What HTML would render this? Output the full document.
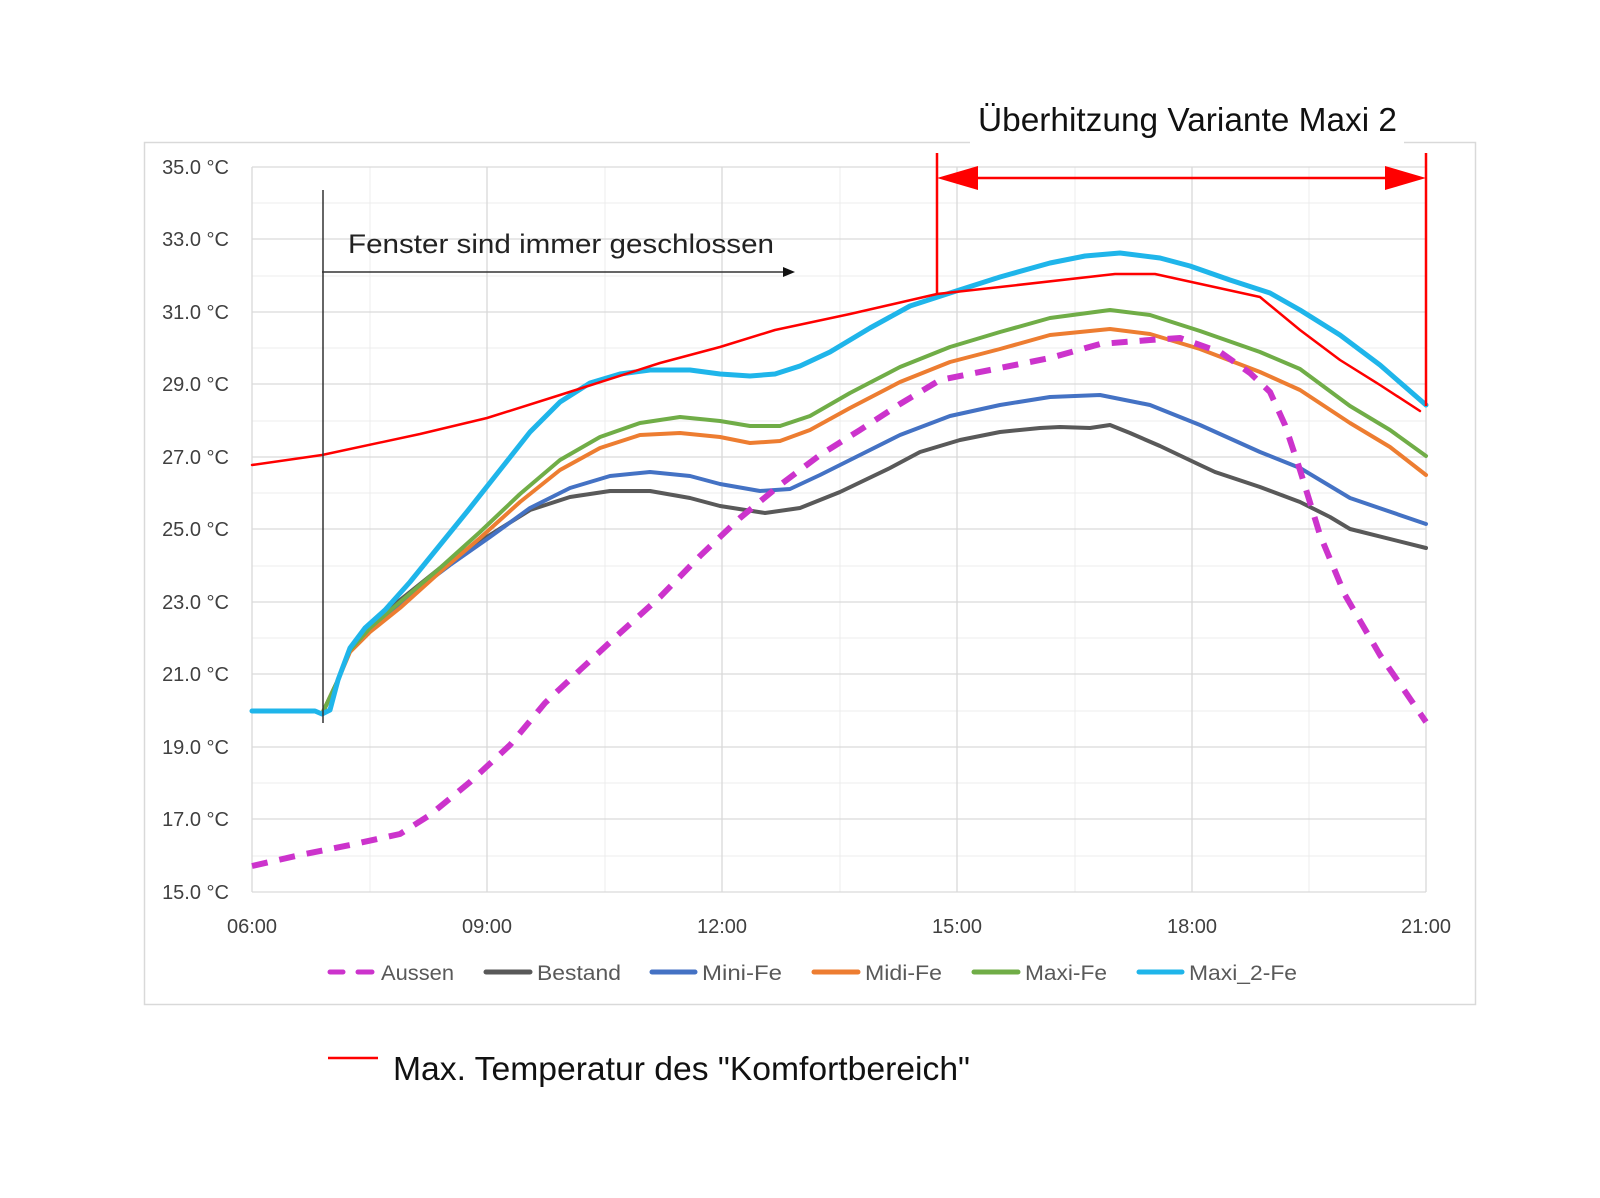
<!DOCTYPE html>
<html><head><meta charset="utf-8"><style>html,body{margin:0;padding:0;background:#fff}svg{display:block}</style></head>
<body>
<svg width="1600" height="1198" viewBox="0 0 1600 1198" xmlns="http://www.w3.org/2000/svg" font-family="Liberation Sans Narrow, Liberation Sans, sans-serif">
<rect x="144.5" y="142.5" width="1331" height="862" fill="none" stroke="#d9d9d9" stroke-width="1.5"/>
<rect x="970" y="130" width="434" height="24" fill="#fff"/>
<g stroke="#ececec" stroke-width="1">
<line x1="252" y1="203" x2="1426" y2="203"/><line x1="252" y1="276" x2="1426" y2="276"/><line x1="252" y1="348" x2="1426" y2="348"/><line x1="252" y1="421" x2="1426" y2="421"/><line x1="252" y1="493" x2="1426" y2="493"/><line x1="252" y1="566" x2="1426" y2="566"/><line x1="252" y1="638" x2="1426" y2="638"/><line x1="252" y1="711" x2="1426" y2="711"/><line x1="252" y1="783" x2="1426" y2="783"/><line x1="252" y1="856" x2="1426" y2="856"/>
<line x1="370" y1="167" x2="370" y2="892"/><line x1="605" y1="167" x2="605" y2="892"/><line x1="840" y1="167" x2="840" y2="892"/><line x1="1075" y1="167" x2="1075" y2="892"/><line x1="1309" y1="167" x2="1309" y2="892"/>
</g>
<g stroke="#d9d9d9" stroke-width="1.3">
<line x1="252" y1="167" x2="1426" y2="167"/><line x1="252" y1="239" x2="1426" y2="239"/><line x1="252" y1="312" x2="1426" y2="312"/><line x1="252" y1="384" x2="1426" y2="384"/><line x1="252" y1="457" x2="1426" y2="457"/><line x1="252" y1="529" x2="1426" y2="529"/><line x1="252" y1="602" x2="1426" y2="602"/><line x1="252" y1="674" x2="1426" y2="674"/><line x1="252" y1="747" x2="1426" y2="747"/><line x1="252" y1="819" x2="1426" y2="819"/><line x1="252" y1="892" x2="1426" y2="892"/>
<line x1="252" y1="167" x2="252" y2="892"/><line x1="487" y1="167" x2="487" y2="892"/><line x1="722" y1="167" x2="722" y2="892"/><line x1="957" y1="167" x2="957" y2="892"/><line x1="1192" y1="167" x2="1192" y2="892"/><line x1="1426" y1="167" x2="1426" y2="892"/>
</g>
<g font-family="Liberation Sans, sans-serif" font-size="20" fill="#404040" text-anchor="end">
<text x="229" y="174">35.0 °C</text><text x="229" y="246">33.0 °C</text><text x="229" y="319">31.0 °C</text><text x="229" y="391">29.0 °C</text><text x="229" y="464">27.0 °C</text><text x="229" y="536">25.0 °C</text><text x="229" y="609">23.0 °C</text><text x="229" y="681">21.0 °C</text><text x="229" y="754">19.0 °C</text><text x="229" y="826">17.0 °C</text><text x="229" y="899">15.0 °C</text>
</g>
<g font-family="Liberation Sans, sans-serif" font-size="20" fill="#404040" text-anchor="middle">
<text x="252" y="933">06:00</text><text x="487" y="933">09:00</text><text x="722" y="933">12:00</text><text x="957" y="933">15:00</text><text x="1192" y="933">18:00</text><text x="1426" y="933">21:00</text>
</g>
<g fill="none" stroke-linejoin="round" stroke-linecap="round">
<polyline stroke="#595959" stroke-width="4" points="322,714 338,680 350,648 370,624 410,592 450,560 490,535 530,510 570,497 610,491 650,491 690,498 720,506 765,513 800,508 840,492 890,468 920,452 960,440 1000,432 1040,428 1060,427 1090,428 1110,425 1130,433 1160,446 1200,465 1215,472 1260,487 1300,502 1330,517 1350,529 1426,548"/>
<polyline stroke="#4472c4" stroke-width="4" points="322,714 338,680 350,650 370,628 410,595 450,565 490,537 530,508 570,488 610,476 650,472 690,476 720,484 760,491 790,489 820,475 860,455 900,435 950,416 1000,405 1050,397 1100,395 1150,405 1200,425 1260,452 1300,468 1350,498 1426,524"/>
<polyline stroke="#ed7d31" stroke-width="4" points="322,714 338,680 350,652 370,632 400,608 440,572 480,538 520,502 560,470 600,448 640,435 680,433 720,437 750,443 780,441 810,430 850,408 900,382 950,362 1000,349 1050,335 1110,329 1150,334 1200,349 1260,372 1300,390 1350,423 1390,447 1426,475"/>
<polyline stroke="#70ad47" stroke-width="4" points="322,714 338,680 350,650 370,628 400,602 440,568 480,532 520,494 560,460 600,437 640,423 680,417 720,421 750,426 780,426 810,416 850,393 900,367 950,347 1000,332 1050,318 1110,310 1150,315 1200,331 1260,352 1300,369 1350,406 1390,430 1426,456"/>
<polyline stroke="#cc33cc" stroke-width="6" stroke-dasharray="16,12" stroke-linecap="butt" points="252,866 300,855 350,845 400,834 430,815 470,782 510,745 545,703 580,670 620,633 660,597 700,556 740,518 780,485 820,455 860,430 900,404 940,380 990,370 1050,358 1100,344 1150,340 1180,338 1220,352 1250,373 1270,392 1285,425 1300,470 1320,535 1345,595 1380,655 1426,722"/>
<polyline stroke="#1fb5ea" stroke-width="5" points="252,711 315,711 322,714 330,710 338,680 350,648 365,628 385,610 410,582 440,545 470,508 500,470 530,432 560,402 590,383 620,374 650,370 690,370 720,374 750,376 775,374 800,366 830,352 870,328 910,306 950,293 1000,277 1050,263 1085,256 1120,253 1160,258 1190,266 1230,280 1270,293 1300,310 1340,335 1380,365 1426,405"/>
<polyline stroke="#ff0000" stroke-width="2.5" points="252,465 322,455 420,434 487,418 560,395 660,363 720,347 775,330 850,314 937,294 1000,287 1115,274 1155,274 1260,297 1300,330 1340,360 1380,385 1420,411"/>
</g>
<line x1="323" y1="190" x2="323" y2="723" stroke="#333" stroke-width="1.5"/>
<line x1="322" y1="272" x2="785" y2="272" stroke="#333" stroke-width="1.5"/>
<polygon points="795,272 783,267 783,277" fill="#111"/>
<text x="348" y="253" font-family="Liberation Sans, sans-serif" font-size="27" fill="#222" textLength="426" lengthAdjust="spacingAndGlyphs">Fenster sind immer geschlossen</text>
<g stroke="#ff0000" stroke-width="2.5">
<line x1="937" y1="153" x2="937" y2="295"/><line x1="1426" y1="153" x2="1426" y2="406"/><line x1="970" y1="178" x2="1392" y2="178"/>
</g>
<polygon points="937,178 978,166 978,190" fill="#ff0000"/><polygon points="1426,178 1385,166 1385,190" fill="#ff0000"/>
<text x="978" y="131" font-size="33" fill="#111" textLength="419" lengthAdjust="spacingAndGlyphs">Überhitzung Variante Maxi 2</text>
<g stroke-width="5" stroke-linecap="round">
<line x1="330" y1="972" x2="343" y2="972" stroke="#cc33cc"/><line x1="358" y1="972" x2="372" y2="972" stroke="#cc33cc"/>
<line x1="486" y1="972" x2="530" y2="972" stroke="#595959"/>
<line x1="652" y1="972" x2="695" y2="972" stroke="#4472c4"/>
<line x1="814" y1="972" x2="858" y2="972" stroke="#ed7d31"/>
<line x1="974" y1="972" x2="1018" y2="972" stroke="#70ad47"/>
<line x1="1139" y1="972" x2="1182" y2="972" stroke="#1fb5ea"/>
</g>
<g font-size="21" fill="#595959">
<text x="381" y="980" textLength="73" lengthAdjust="spacingAndGlyphs">Aussen</text>
<text x="537" y="980" textLength="84" lengthAdjust="spacingAndGlyphs">Bestand</text>
<text x="702" y="980" textLength="80" lengthAdjust="spacingAndGlyphs">Mini-Fe</text>
<text x="865" y="980" textLength="77" lengthAdjust="spacingAndGlyphs">Midi-Fe</text>
<text x="1025" y="980" textLength="82" lengthAdjust="spacingAndGlyphs">Maxi-Fe</text>
<text x="1189" y="980" textLength="108" lengthAdjust="spacingAndGlyphs">Maxi_2-Fe</text>
</g>
<line x1="328" y1="1058" x2="378" y2="1058" stroke="#ff0000" stroke-width="2.5"/>
<text x="393" y="1080" font-size="33" fill="#111" textLength="577" lengthAdjust="spacingAndGlyphs">Max. Temperatur des "Komfortbereich"</text>
</svg>
</body></html>
